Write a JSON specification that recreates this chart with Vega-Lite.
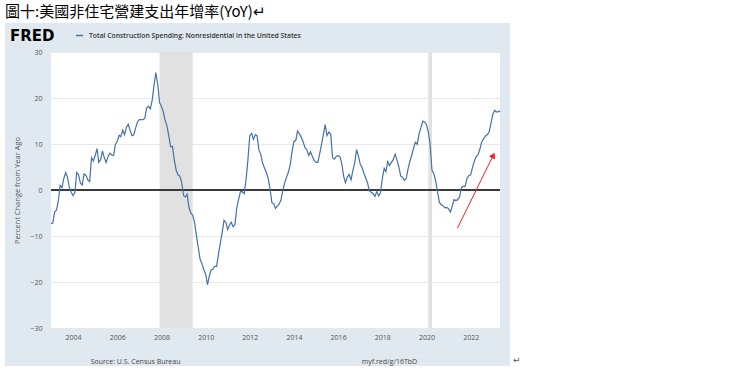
{
 "$schema": "https://vega.github.io/schema/vega-lite/v6.json",
 "width": 449,
 "height": 276,
 "autosize": {"type": "none"},
 "padding": {"left": 51, "top": 52, "right": 240, "bottom": 42},
 "background": "#e1e9f0",
 "config": {"view": {"fill": "#ffffff", "stroke": null}, "font": "Open Sans"},
 "datasets": {
  "rec": [{"start": "2007-12-01", "end": "2009-06-01"}, {"start": "2020-02-01", "end": "2020-04-01"}],
  "yoy": [
{"date":"2003-01-01","v":-7.3},{"date":"2003-02-01","v":-7.2},{"date":"2003-03-01","v":-4.8},{"date":"2003-04-01","v":-4.4},{"date":"2003-05-01","v":-2.5},{"date":"2003-06-01","v":1.0},{"date":"2003-07-01","v":0.5},{"date":"2003-08-01","v":2.5},{"date":"2003-09-01","v":3.8},{"date":"2003-10-01","v":2.8},{"date":"2003-11-01","v":0.5},{"date":"2003-12-01","v":-0.5},
{"date":"2004-01-01","v":-1.2},{"date":"2004-02-01","v":-0.5},{"date":"2004-03-01","v":3.8},{"date":"2004-04-01","v":3.3},{"date":"2004-05-01","v":1.5},{"date":"2004-06-01","v":1.1},{"date":"2004-07-01","v":3.5},{"date":"2004-08-01","v":3.2},{"date":"2004-09-01","v":2.2},{"date":"2004-10-01","v":1.8},{"date":"2004-11-01","v":7.0},{"date":"2004-12-01","v":6.3},
{"date":"2005-01-01","v":7.5},{"date":"2005-02-01","v":9.0},{"date":"2005-03-01","v":6.0},{"date":"2005-04-01","v":6.6},{"date":"2005-05-01","v":8.5},{"date":"2005-06-01","v":7.0},{"date":"2005-07-01","v":6.0},{"date":"2005-08-01","v":7.3},{"date":"2005-09-01","v":8.0},{"date":"2005-10-01","v":7.6},{"date":"2005-11-01","v":7.5},{"date":"2005-12-01","v":9.9},
{"date":"2006-01-01","v":10.6},{"date":"2006-02-01","v":11.9},{"date":"2006-03-01","v":11.6},{"date":"2006-04-01","v":13.0},{"date":"2006-05-01","v":12.0},{"date":"2006-06-01","v":13.6},{"date":"2006-07-01","v":14.3},{"date":"2006-08-01","v":13.0},{"date":"2006-09-01","v":11.8},{"date":"2006-10-01","v":12.0},{"date":"2006-11-01","v":13.5},{"date":"2006-12-01","v":14.8},
{"date":"2007-01-01","v":15.3},{"date":"2007-02-01","v":15.3},{"date":"2007-03-01","v":15.3},{"date":"2007-04-01","v":15.6},{"date":"2007-05-01","v":17.8},{"date":"2007-06-01","v":18.2},{"date":"2007-07-01","v":17.6},{"date":"2007-08-01","v":19.5},{"date":"2007-09-01","v":22.8},{"date":"2007-10-01","v":25.5},{"date":"2007-11-01","v":23.0},{"date":"2007-12-01","v":19.0},
{"date":"2008-01-01","v":18.2},{"date":"2008-02-01","v":17.0},{"date":"2008-03-01","v":15.2},{"date":"2008-04-01","v":14.0},{"date":"2008-05-01","v":11.8},{"date":"2008-06-01","v":9.4},{"date":"2008-07-01","v":9.5},{"date":"2008-08-01","v":6.5},{"date":"2008-09-01","v":4.3},{"date":"2008-10-01","v":3.3},{"date":"2008-11-01","v":3.0},{"date":"2008-12-01","v":1.6},
{"date":"2009-01-01","v":-1.2},{"date":"2009-02-01","v":-1.5},{"date":"2009-03-01","v":-0.9},{"date":"2009-04-01","v":-3.8},{"date":"2009-05-01","v":-5.0},{"date":"2009-06-01","v":-5.5},{"date":"2009-07-01","v":-7.0},{"date":"2009-08-01","v":-9.8},{"date":"2009-09-01","v":-12.5},{"date":"2009-10-01","v":-15.0},{"date":"2009-11-01","v":-16.0},{"date":"2009-12-01","v":-17.3},
{"date":"2010-01-01","v":-18.3},{"date":"2010-02-01","v":-20.6},{"date":"2010-03-01","v":-18.8},{"date":"2010-04-01","v":-17.4},{"date":"2010-05-01","v":-17.2},{"date":"2010-06-01","v":-16.6},{"date":"2010-07-01","v":-16.6},{"date":"2010-08-01","v":-14.0},{"date":"2010-09-01","v":-11.5},{"date":"2010-10-01","v":-9.3},{"date":"2010-11-01","v":-6.6},{"date":"2010-12-01","v":-7.0},
{"date":"2011-01-01","v":-8.6},{"date":"2011-02-01","v":-7.6},{"date":"2011-03-01","v":-7.0},{"date":"2011-04-01","v":-8.0},{"date":"2011-05-01","v":-7.5},{"date":"2011-06-01","v":-3.8},{"date":"2011-07-01","v":-2.0},{"date":"2011-08-01","v":-0.3},{"date":"2011-09-01","v":-0.4},{"date":"2011-10-01","v":-0.8},{"date":"2011-11-01","v":2.3},{"date":"2011-12-01","v":6.5},
{"date":"2012-01-01","v":11.8},{"date":"2012-02-01","v":12.3},{"date":"2012-03-01","v":11.0},{"date":"2012-04-01","v":12.0},{"date":"2012-05-01","v":11.8},{"date":"2012-06-01","v":8.6},{"date":"2012-07-01","v":7.8},{"date":"2012-08-01","v":5.8},{"date":"2012-09-01","v":4.8},{"date":"2012-10-01","v":3.8},{"date":"2012-11-01","v":2.5},{"date":"2012-12-01","v":0.3},
{"date":"2013-01-01","v":-2.8},{"date":"2013-02-01","v":-3.0},{"date":"2013-03-01","v":-4.0},{"date":"2013-04-01","v":-3.5},{"date":"2013-05-01","v":-3.0},{"date":"2013-06-01","v":-2.2},{"date":"2013-07-01","v":0.0},{"date":"2013-08-01","v":1.6},{"date":"2013-09-01","v":2.8},{"date":"2013-10-01","v":3.9},{"date":"2013-11-01","v":5.5},{"date":"2013-12-01","v":8.5},
{"date":"2014-01-01","v":10.5},{"date":"2014-02-01","v":10.8},{"date":"2014-03-01","v":12.8},{"date":"2014-04-01","v":12.2},{"date":"2014-05-01","v":11.5},{"date":"2014-06-01","v":10.5},{"date":"2014-07-01","v":9.2},{"date":"2014-08-01","v":8.8},{"date":"2014-09-01","v":7.5},{"date":"2014-10-01","v":8.3},{"date":"2014-11-01","v":7.3},{"date":"2014-12-01","v":6.4},
{"date":"2015-01-01","v":6.0},{"date":"2015-02-01","v":6.0},{"date":"2015-03-01","v":7.8},{"date":"2015-04-01","v":9.9},{"date":"2015-05-01","v":12.0},{"date":"2015-06-01","v":14.2},{"date":"2015-07-01","v":11.8},{"date":"2015-08-01","v":12.6},{"date":"2015-09-01","v":12.1},{"date":"2015-10-01","v":7.0},{"date":"2015-11-01","v":6.7},{"date":"2015-12-01","v":7.3},
{"date":"2016-01-01","v":7.5},{"date":"2016-02-01","v":7.2},{"date":"2016-03-01","v":5.8},{"date":"2016-04-01","v":3.0},{"date":"2016-05-01","v":1.6},{"date":"2016-06-01","v":2.8},{"date":"2016-07-01","v":3.4},{"date":"2016-08-01","v":2.2},{"date":"2016-09-01","v":4.2},{"date":"2016-10-01","v":5.9},{"date":"2016-11-01","v":8.8},{"date":"2016-12-01","v":7.4},
{"date":"2017-01-01","v":5.6},{"date":"2017-02-01","v":4.9},{"date":"2017-03-01","v":3.7},{"date":"2017-04-01","v":2.6},{"date":"2017-05-01","v":1.6},{"date":"2017-06-01","v":-0.2},{"date":"2017-07-01","v":-0.5},{"date":"2017-08-01","v":-0.8},{"date":"2017-09-01","v":-1.4},{"date":"2017-10-01","v":-0.3},{"date":"2017-11-01","v":-1.3},{"date":"2017-12-01","v":-0.6},
{"date":"2018-01-01","v":2.5},{"date":"2018-02-01","v":4.7},{"date":"2018-03-01","v":4.0},{"date":"2018-04-01","v":6.2},{"date":"2018-05-01","v":5.3},{"date":"2018-06-01","v":6.0},{"date":"2018-07-01","v":6.6},{"date":"2018-08-01","v":7.8},{"date":"2018-09-01","v":6.5},{"date":"2018-10-01","v":5.0},{"date":"2018-11-01","v":3.0},{"date":"2018-12-01","v":2.8},
{"date":"2019-01-01","v":2.1},{"date":"2019-02-01","v":2.5},{"date":"2019-03-01","v":4.5},{"date":"2019-04-01","v":6.2},{"date":"2019-05-01","v":7.5},{"date":"2019-06-01","v":9.0},{"date":"2019-07-01","v":10.4},{"date":"2019-08-01","v":9.9},{"date":"2019-09-01","v":12.2},{"date":"2019-10-01","v":13.5},{"date":"2019-11-01","v":15.0},{"date":"2019-12-01","v":14.8},
{"date":"2020-01-01","v":14.2},{"date":"2020-02-01","v":12.6},{"date":"2020-03-01","v":10.0},{"date":"2020-04-01","v":4.3},{"date":"2020-05-01","v":3.6},{"date":"2020-06-01","v":2.0},{"date":"2020-07-01","v":-0.3},{"date":"2020-08-01","v":-2.7},{"date":"2020-09-01","v":-3.2},{"date":"2020-10-01","v":-3.4},{"date":"2020-11-01","v":-3.9},{"date":"2020-12-01","v":-3.8},
{"date":"2021-01-01","v":-4.1},{"date":"2021-02-01","v":-4.8},{"date":"2021-03-01","v":-3.5},{"date":"2021-04-01","v":-2.1},{"date":"2021-05-01","v":-2.3},{"date":"2021-06-01","v":-2.1},{"date":"2021-07-01","v":-1.5},{"date":"2021-08-01","v":0.5},{"date":"2021-09-01","v":0.8},{"date":"2021-10-01","v":0.8},{"date":"2021-11-01","v":2.5},{"date":"2021-12-01","v":3.1},
{"date":"2022-01-01","v":3.3},{"date":"2022-02-01","v":4.9},{"date":"2022-03-01","v":6.2},{"date":"2022-04-01","v":7.2},{"date":"2022-05-01","v":7.6},{"date":"2022-06-01","v":8.8},{"date":"2022-07-01","v":10.4},{"date":"2022-08-01","v":11.1},{"date":"2022-09-01","v":11.7},{"date":"2022-10-01","v":12.0},{"date":"2022-11-01","v":12.6},{"date":"2022-12-01","v":14.4},
{"date":"2023-01-01","v":16.4},{"date":"2023-02-01","v":17.3},{"date":"2023-03-01","v":17.0},{"date":"2023-04-01","v":17.0},{"date":"2023-05-01","v":17.2}
  ]
 },
 "layer": [
  {"data": {"values": [{}]}, "mark": {"type": "rect", "color": "#ffffff", "clip": false},
   "encoding": {"x": {"datum": {"year": 1990}, "type": "temporal"}, "x2": {"datum": {"year": 2040}},
                "y": {"datum": 36.3, "type": "quantitative"}, "y2": {"datum": 80}}},
  {"data": {"values": [{}]}, "mark": {"type": "rect", "color": "#ffffff", "clip": false},
   "encoding": {"x": {"datum": {"year": 2023, "month": 10, "date": 15}, "type": "temporal"}, "x2": {"datum": {"year": 2040}},
                "y": {"datum": -80, "type": "quantitative"}, "y2": {"datum": 80}}},
  {"data": {"values": [{}]}, "mark": {"type": "rect", "color": "#ffffff", "clip": false},
   "encoding": {"x": {"datum": {"year": 1990}, "type": "temporal"}, "x2": {"datum": {"year": 2000, "month": 12, "date": 1}},
                "y": {"datum": -80, "type": "quantitative"}, "y2": {"datum": 80}}},
  {"data": {"values": [{}]}, "mark": {"type": "rect", "color": "#ffffff", "clip": false},
   "encoding": {"x": {"datum": {"year": 1990}, "type": "temporal"}, "x2": {"datum": {"year": 2040}},
                "y": {"datum": -80, "type": "quantitative"}, "y2": {"datum": -38.26}}},
  {"data": {"name": "rec"},
   "mark": {"type": "rect", "color": "#e1e1e1"},
   "encoding": {"x": {"field": "start", "type": "temporal"}, "x2": {"field": "end"}}},
  {"data": {"values": [{}]}, "mark": {"type": "rule", "color": "#3a3a3a", "strokeWidth": 2},
   "encoding": {"y": {"datum": 0, "type": "quantitative"}}},
  {"data": {"name": "yoy"},
   "mark": {"type": "line", "strokeWidth": 1.2, "interpolate": "linear"},
   "encoding": {
    "x": {"field": "date", "type": "temporal",
          "scale": {"domain": [{"year": 2003, "month": 1, "date": 1}, {"year": 2023, "month": 5, "date": 1}], "nice": false},
          "axis": {"title": null, "format": "%Y", "tickCount": {"interval": "year", "step": 2}, "grid": false, "ticks": false, "domain": false,
                   "labelFont": "Open Sans", "labelFontSize": 7, "labelColor": "#555555", "labelPadding": 5, "labelOverlap": false, "labelFlush": false}},
    "y": {"field": "v", "type": "quantitative",
          "scale": {"domain": [-30, 30], "nice": false, "zero": false},
          "axis": {"title": "Percent Change from Year Ago", "values": [-30, -20, -10, 0, 10, 20, 30], "grid": true, "gridColor": "#e8e8e8", "ticks": false, "domain": false,
                   "labelFont": "Open Sans", "labelFontSize": 7, "labelColor": "#555555", "labelPadding": 9,
                   "titleFont": "Open Sans", "titleFontSize": 7.5, "titleFontWeight": "normal", "titleColor": "#555555", "titlePadding": 8}},
    "color": {"datum": "Total Construction Spending: Nonresidential in the United States", "type": "nominal",
              "scale": {"range": ["#4572a7"]},
              "legend": {"orient": "none", "legendX": 24, "legendY": -21, "title": null, "symbolType": "stroke", "symbolSize": 49, "symbolStrokeWidth": 1.5,
                         "labelFont": "Open Sans", "labelFontSize": 6.8, "labelFontWeight": 600, "labelColor": "#333333", "labelLimit": 0, "labelOffset": 5}}
   }},
  {"data": {"values": [{}]}, "mark": {"type": "rule", "color": "#ee2222", "strokeWidth": 1, "clip": false},
   "encoding": {"x": {"datum": {"year": 2021, "month": 5, "date": 26}, "type": "temporal"}, "y": {"datum": -8.33, "type": "quantitative"},
                "x2": {"datum": {"year": 2023, "month": 1, "date": 10}}, "y2": {"datum": 7.54}}},
  {"data": {"values": [{}]}, "mark": {"type": "point", "shape": "triangle-up", "filled": true, "size": 45, "angle": 26, "color": "#ee2222", "opacity": 1, "clip": false},
   "encoding": {"x": {"datum": {"year": 2023, "month": 1, "date": 10}, "type": "temporal"}, "y": {"datum": 7.54, "type": "quantitative"}}},
  {"data": {"values": [{}]}, "mark": {"type": "text", "text": "圖十:美國非住宅營建支出年增率(YoY)↵", "align": "left", "baseline": "alphabetic", "font": "Noto Sans CJK TC", "fontSize": 15, "color": "#000000", "clip": false},
   "encoding": {"x": {"datum": {"year": 2000, "month": 12, "date": 1}, "type": "temporal"}, "y": {"datum": 37.6, "type": "quantitative"}}},
  {"data": {"values": [{}]}, "mark": {"type": "text", "text": "FRED", "align": "left", "baseline": "alphabetic", "font": "DejaVu Sans", "fontWeight": "bold", "fontSize": 15, "color": "#000000", "clip": false},
   "encoding": {"x": {"datum": {"year": 2001, "month": 2, "date": 22}, "type": "temporal"}, "y": {"datum": 32.3, "type": "quantitative"}}},
  {"data": {"values": [{}]}, "mark": {"type": "text", "text": "Source: U.S. Census Bureau", "align": "left", "baseline": "middle", "font": "Open Sans", "fontSize": 7, "color": "#444444", "clip": false},
   "encoding": {"x": {"datum": {"year": 2004, "month": 10, "date": 18}, "type": "temporal"}, "y": {"datum": -37.3, "type": "quantitative"}}},
  {"data": {"values": [{}]}, "mark": {"type": "text", "text": "myf.red/g/16TbD", "align": "left", "baseline": "middle", "font": "Open Sans", "fontSize": 7, "color": "#444444", "clip": false},
   "encoding": {"x": {"datum": {"year": 2017, "month": 1, "date": 26}, "type": "temporal"}, "y": {"datum": -37.3, "type": "quantitative"}}},
  {"data": {"values": [{}]}, "mark": {"type": "text", "text": "↵", "align": "left", "baseline": "middle", "font": "DejaVu Sans", "fontSize": 9, "color": "#555555", "clip": false},
   "encoding": {"x": {"datum": {"year": 2023, "month": 12, "date": 1}, "type": "temporal"}, "y": {"datum": -37.0, "type": "quantitative"}}}
 ]
}
